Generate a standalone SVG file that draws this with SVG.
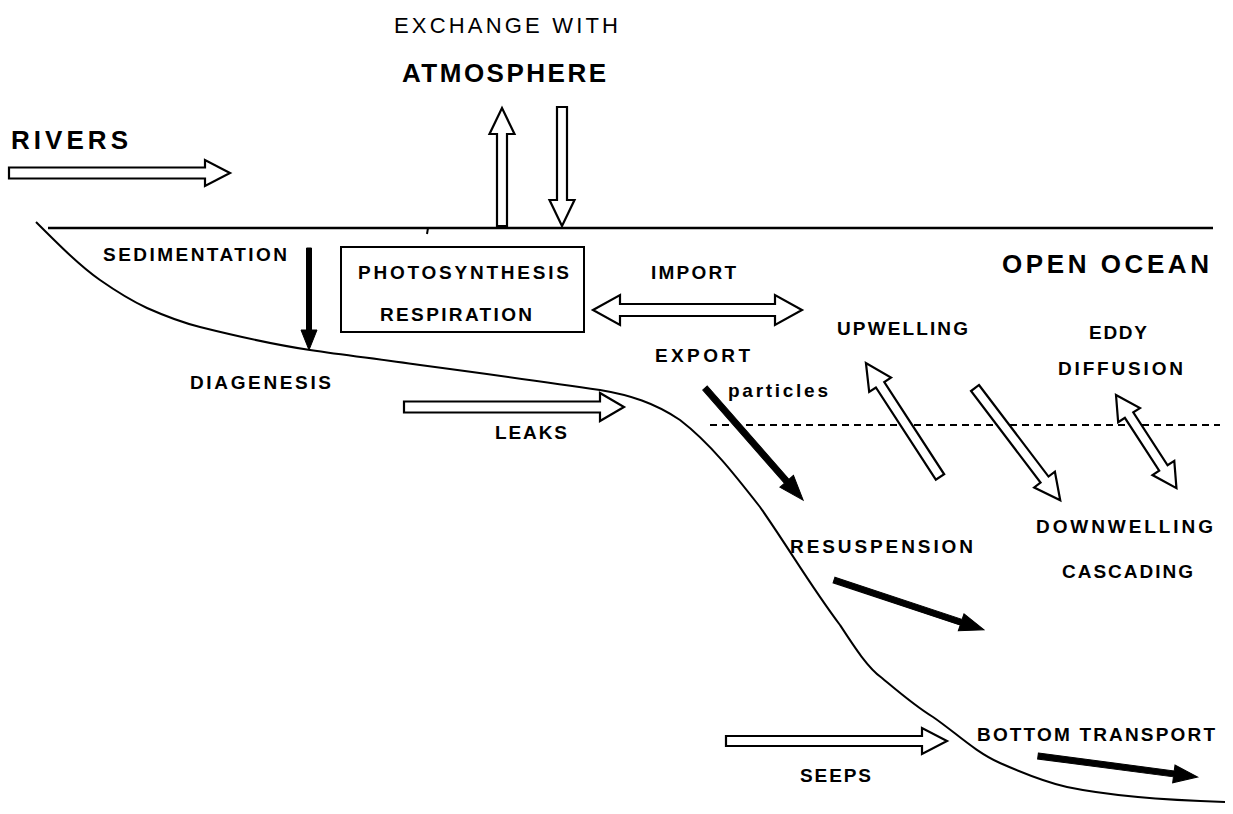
<svg xmlns="http://www.w3.org/2000/svg" width="1233" height="814" viewBox="0 0 1233 814">
<style>
  text { font-family: "Liberation Sans", Arial, sans-serif; font-weight: bold; fill: #000; }
  .lbl { font-size: 19px; }
  .big { font-size: 26px; }
  .thin { font-weight: normal; }
  .hollow { fill: #fff; stroke: #000; stroke-width: 2.2; stroke-linejoin: miter; }
  .solid { fill: #000; stroke: #000; stroke-width: 1; }
  .line { fill: none; stroke: #000; }
</style>
<rect width="1233" height="814" fill="#fff"/>

<g id="background">
  <line class="line" x1="48" y1="228" x2="1213" y2="228" stroke-width="2.5"/>
  <line class="line" x1="428" y1="228" x2="427" y2="234" stroke-width="2"/>
  <path class="line" stroke-width="2" stroke-linejoin="round" d="M36,222 C60,246 80,266 100,280 C120,294 130,300 147,308 C165,316 180,322 200,327 C240,337 270,344 310,350 C350,356 380,359 420,365 C480,373 540,381 600,390 C630,395 655,403 680,420 C710,443 735,475 760,507 C790,550 810,585 840,625 C855,648 868,668 882,678 C900,693 915,706 933,717 C955,732 975,752 1000,763 C1025,774 1045,782 1067,787 C1110,796 1160,800 1225,802"/>
  <line class="line" x1="710" y1="425" x2="1220" y2="425" stroke-width="2" stroke-dasharray="7 5"/>
</g>

<g id="connectors">
  <g id="rivers-arrow" transform="translate(9,173)"><polygon class="hollow" points="0,-5.5 196,-5.5 196,-13 221,0 196,13 196,5.5 0,5.5"/></g>
  <g id="leaks-arrow" transform="translate(404,407)"><polygon class="hollow" points="0,-5.5 196,-5.5 196,-14 220,0 196,14 196,5.5 0,5.5"/></g>
  <g id="seeps-arrow" transform="translate(726,741)"><polygon class="hollow" points="0,-5 196,-5 196,-13 221,0 196,13 196,5 0,5"/></g>
  <g id="atm-up-arrow" transform="translate(502,226) rotate(-90)"><polygon class="hollow" points="0,-5 92,-5 92,-12.5 118,0 92,12.5 92,5 0,5"/></g>
  <g id="atm-down-arrow" transform="translate(562,107) rotate(90)"><polygon class="hollow" points="0,-5 93,-5 93,-12.5 119,0 93,12.5 93,5 0,5"/></g>
  <g id="import-export-arrow" transform="translate(593,310)"><polygon class="hollow" points="0,0 27,-15 27,-6 182,-6 182,-15 209,0 182,15 182,6 27,6 27,15"/></g>
  <g id="upwelling-arrow" transform="translate(940,477) rotate(-123)"><polygon class="hollow" stroke-linejoin="round" points="0,-5 110,-5 110,-13 136,0 110,13 110,5 0,5"/></g>
  <g id="downwelling-arrow" transform="translate(975,388) rotate(52.8)"><polygon class="hollow" stroke-linejoin="round" points="0,-5 115,-5 115,-13 141,0 115,13 115,5 0,5"/></g>
  <g id="eddy-arrow" transform="translate(1116,395) rotate(57)"><polygon class="hollow" points="0,0 24,-13 24,-5 87,-5 87,-13 111,0 87,13 87,5 24,5 24,13"/></g>
  <g id="sedimentation-arrow" transform="translate(309,248) rotate(90)"><polygon class="solid" points="0,-2.5 82,-2.5 82,-8 102,0 82,8 82,2.5 0,2.5"/></g>
  <g id="particles-arrow" transform="translate(705,388) rotate(48.8)"><polygon class="solid" points="0,-3 124,-3 124,-9 149,0 124,9 124,3 0,3"/></g>
  <g id="resuspension-arrow" transform="translate(834,580) rotate(18.4)"><polygon class="solid" points="0,-3 134,-3 134,-9 158,0 134,9 134,3 0,3"/></g>
  <g id="bottom-arrow" transform="translate(1038,756) rotate(7.5)"><polygon class="solid" points="0,-3 137,-3 137,-9 161,0 137,9 137,3 0,3"/></g>
</g>

<g id="node-rivers"><text class="big" x="11" y="149" textLength="117" lengthAdjust="spacing">RIVERS</text></g>
<g id="node-atmosphere">
  <text class="thin" x="394" y="33" font-size="22" textLength="224" lengthAdjust="spacing">EXCHANGE WITH</text>
  <text class="big" x="402" y="82" textLength="204" lengthAdjust="spacing">ATMOSPHERE</text>
</g>
<g id="node-sedimentation"><text class="lbl" x="103" y="261" textLength="184" lengthAdjust="spacing">SEDIMENTATION</text></g>
<g id="node-box">
  <rect x="341" y="247" width="243" height="85" fill="none" stroke="#000" stroke-width="2"/>
  <text class="lbl" x="358" y="279" textLength="211" lengthAdjust="spacing">PHOTOSYNTHESIS</text>
  <text class="lbl" x="380" y="321" textLength="152" lengthAdjust="spacing">RESPIRATION</text>
</g>
<g id="node-import"><text class="lbl" x="651" y="279" textLength="85" lengthAdjust="spacing">IMPORT</text></g>
<g id="node-export"><text class="lbl" x="655" y="362" textLength="95" lengthAdjust="spacing">EXPORT</text></g>
<g id="node-open-ocean"><text class="big" x="1002" y="273" textLength="207" lengthAdjust="spacing">OPEN OCEAN</text></g>
<g id="node-upwelling"><text class="lbl" x="837" y="335" textLength="131" lengthAdjust="spacing">UPWELLING</text></g>
<g id="node-eddy">
  <text class="lbl" x="1089" y="339" textLength="58" lengthAdjust="spacing">EDDY</text>
  <text class="lbl" x="1058" y="375" textLength="125" lengthAdjust="spacing">DIFFUSION</text>
</g>
<g id="node-diagenesis"><text class="lbl" x="190" y="389" textLength="141" lengthAdjust="spacing">DIAGENESIS</text></g>
<g id="node-particles"><text class="lbl" x="728" y="397" font-size="17" textLength="100" lengthAdjust="spacing">particles</text></g>
<g id="node-leaks"><text class="lbl" x="495" y="439" textLength="72" lengthAdjust="spacing">LEAKS</text></g>
<g id="node-downwelling">
  <text class="lbl" x="1036" y="533" textLength="177" lengthAdjust="spacing">DOWNWELLING</text>
  <text class="lbl" x="1062" y="578" textLength="131" lengthAdjust="spacing">CASCADING</text>
</g>
<g id="node-resuspension"><text class="lbl" x="790" y="553" textLength="183" lengthAdjust="spacing">RESUSPENSION</text></g>
<g id="node-bottom-transport"><text class="lbl" x="977" y="741" textLength="238" lengthAdjust="spacing">BOTTOM TRANSPORT</text></g>
<g id="node-seeps"><text class="lbl" x="800" y="782" textLength="71" lengthAdjust="spacing">SEEPS</text></g>
</svg>
